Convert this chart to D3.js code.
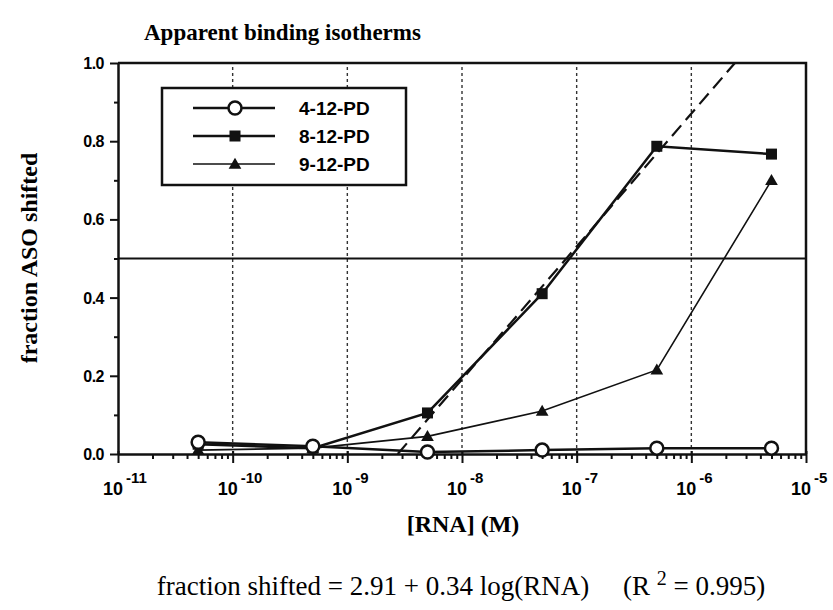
<!DOCTYPE html>
<html>
<head>
<meta charset="utf-8">
<script src="https://cdn.jsdelivr.net/npm/d3@7"></script>
<style>
  body { margin: 0; background: #fff; }
  svg { display: block; }
</style>
</head>
<body>
<svg width="833" height="610"></svg>
<script>
// data
const concentrations = [5e-11, 5e-10, 5e-9, 5e-8, 5e-7, 5e-6];
const pd4 = [0.03, 0.02, 0.005, 0.01, 0.015, 0.015];
const pd8 = [0.025, 0.015, 0.105, 0.41, 0.787, 0.767];
const pd9 = [0.01, 0.015, 0.045, 0.11, 0.215, 0.70];
const seriesNames = ["4-12-PD", "8-12-PD", "9-12-PD"];
const fitX = [2.75e-9, 2.4e-6];
const fitY = [0, 1.0];
const xExponents = [-11, -10, -9, -8, -7, -6, -5];
const yTicks = [0, 0.2, 0.4, 0.6, 0.8, 1.0];
const halfLine = 0.5;

const serif = "'Liberation Serif', 'Times New Roman', serif";
const sans = "'Liberation Sans', Arial, sans-serif";

const svg = d3.select("svg");
const x = d3.scaleLog().domain([1e-11, 1e-5]).range([118, 806]);
const y = d3.scaleLinear().domain([0, 1]).range([454, 63]);

// gridlines at decades
svg.append("g").selectAll("line")
  .data(xExponents.slice(1, -1))
  .join("line")
  .attr("x1", d => x(Math.pow(10, d))).attr("x2", d => x(Math.pow(10, d)))
  .attr("y1", y(0)).attr("y2", y(1))
  .attr("stroke", "#333").attr("stroke-width", 1.4)
  .attr("stroke-dasharray", "3,3");

// horizontal line at 0.5
svg.append("line")
  .attr("x1", x.range()[0]).attr("x2", x.range()[1])
  .attr("y1", y(halfLine)).attr("y2", y(halfLine))
  .attr("stroke", "#111").attr("stroke-width", 1.8);

// frame (top + right)
svg.append("path")
  .attr("d", `M${x.range()[0]},${y(1)}H${x.range()[1]}V${y(0)}`)
  .attr("fill", "none").attr("stroke", "#111").attr("stroke-width", 2.5);

// x axis
const isDecade = d => Math.abs(Math.log10(d) - Math.round(Math.log10(d))) < 1e-6;
const xAxis = d3.axisBottom(x)
  .tickValues(d3.range(-11, -5).flatMap(e => d3.range(1, 10).map(m => m * Math.pow(10, e))).concat([1e-5]))
  .tickFormat("")
  .tickSizeOuter(0);
const gx = svg.append("g").attr("transform", `translate(0,${y(0)})`).call(xAxis);
gx.select(".domain").attr("stroke", "#111").attr("stroke-width", 2.5);
gx.selectAll(".tick line")
  .attr("stroke", "#111").attr("stroke-width", 2)
  .attr("y1", d => isDecade(d) ? -3 : 0)
  .attr("y2", d => isDecade(d) ? 9 : 5);

// x tick labels: 10 with exponent
const xl = svg.append("g").selectAll("g").data(xExponents).join("g");
xl.append("text")
  .attr("x", d => x(Math.pow(10, d)) - 5).attr("y", 495)
  .attr("text-anchor", "middle")
  .attr("font-family", sans).attr("font-weight", "bold").attr("font-size", 18)
  .text("10");
xl.append("text")
  .attr("x", d => x(Math.pow(10, d)) + 8).attr("y", 483)
  .attr("font-family", sans).attr("font-weight", "bold").attr("font-size", 15)
  .text(d => d);

// y axis
const yAxis = d3.axisLeft(y)
  .tickValues(d3.range(0, 11).map(i => i / 10))
  .tickFormat("")
  .tickSizeOuter(0);
const gy = svg.append("g").attr("transform", `translate(${x.range()[0]},0)`).call(yAxis);
gy.select(".domain").attr("stroke", "#111").attr("stroke-width", 2.5);
gy.selectAll(".tick line")
  .attr("stroke", "#111").attr("stroke-width", 2)
  .attr("x2", d => Math.round(d * 10) % 2 === 0 ? -8 : -4);

svg.append("g").selectAll("text")
  .data(yTicks)
  .join("text")
  .attr("x", 104).attr("y", d => y(d) + 6)
  .attr("text-anchor", "end")
  .attr("font-family", sans).attr("font-weight", "bold").attr("font-size", 16)
  .attr("letter-spacing", -0.5)
  .text(d => d.toFixed(1));

// fit line (dashed)
const line = d3.line().x(d => x(d[0])).y(d => y(d[1]));
svg.append("path")
  .datum(d3.zip(fitX, fitY))
  .attr("d", line)
  .attr("fill", "none").attr("stroke", "#111").attr("stroke-width", 2.2)
  .attr("stroke-dasharray", "14,7");

// series
const series = [
  { name: seriesNames[0], values: pd4, width: 2.5, marker: "circle" },
  { name: seriesNames[1], values: pd8, width: 2.5, marker: "square" },
  { name: seriesNames[2], values: pd9, width: 1.6, marker: "triangle" }
];

function drawMarker(g, type, cx, cy) {
  if (type === "circle") {
    g.append("circle").attr("cx", cx).attr("cy", cy).attr("r", 6.5)
      .attr("fill", "#fff").attr("stroke", "#111").attr("stroke-width", 2.5);
  } else if (type === "square") {
    g.append("rect").attr("x", cx - 5.5).attr("y", cy - 5.5).attr("width", 11).attr("height", 11)
      .attr("fill", "#111");
  } else {
    g.append("path")
      .attr("d", d3.symbol(d3.symbolTriangle, 70)())
      .attr("transform", `translate(${cx},${cy + 1})`)
      .attr("fill", "#111");
  }
}

series.slice().reverse().forEach(s => {
  const pts = d3.zip(concentrations, s.values);
  svg.append("path").datum(pts).attr("d", line)
    .attr("fill", "none").attr("stroke", "#111").attr("stroke-width", s.width);
});
series.slice().reverse().forEach(s => {
  const g = svg.append("g");
  concentrations.forEach((c, i) => drawMarker(g, s.marker, x(c), y(s.values[i])));
});

// legend
const lg = svg.append("g");
lg.append("rect").attr("x", 162).attr("y", 88).attr("width", 244).attr("height", 97)
  .attr("fill", "#fff").attr("stroke", "#111").attr("stroke-width", 2.5);
series.forEach((s, i) => {
  const ly = 108 + i * 28;
  lg.append("line").attr("x1", 193).attr("x2", 275).attr("y1", ly).attr("y2", ly)
    .attr("stroke", "#111").attr("stroke-width", s.width);
  drawMarker(lg, s.marker, 235, ly);
  lg.append("text").attr("x", 299).attr("y", ly + 7)
    .attr("font-family", sans).attr("font-weight", "bold").attr("font-size", 19)
    .text(s.name);
});

// titles
svg.append("text").attr("x", 144).attr("y", 40)
  .attr("font-family", serif).attr("font-weight", "bold").attr("font-size", 23)
  .text("Apparent binding isotherms");

svg.append("text")
  .attr("transform", "translate(37,258) rotate(-90)")
  .attr("text-anchor", "middle")
  .attr("font-family", serif).attr("font-weight", "bold").attr("font-size", 24)
  .text("fraction ASO shifted");

svg.append("text").attr("x", 463).attr("y", 532)
  .attr("text-anchor", "middle")
  .attr("font-family", serif).attr("font-weight", "bold").attr("font-size", 24)
  .text("[RNA] (M)");

const f = svg.append("text").attr("x", 461).attr("y", 595)
  .attr("text-anchor", "middle")
  .attr("font-family", serif).attr("font-size", 27);
f.append("tspan").text("fraction shifted = 2.91 + 0.34 log(RNA)\u00a0\u00a0\u00a0\u00a0\u00a0(R ");
f.append("tspan").attr("dy", -10).attr("font-size", 20).text("2");
f.append("tspan").attr("dy", 10).text(" = 0.995)");
</script>
</body>
</html>
